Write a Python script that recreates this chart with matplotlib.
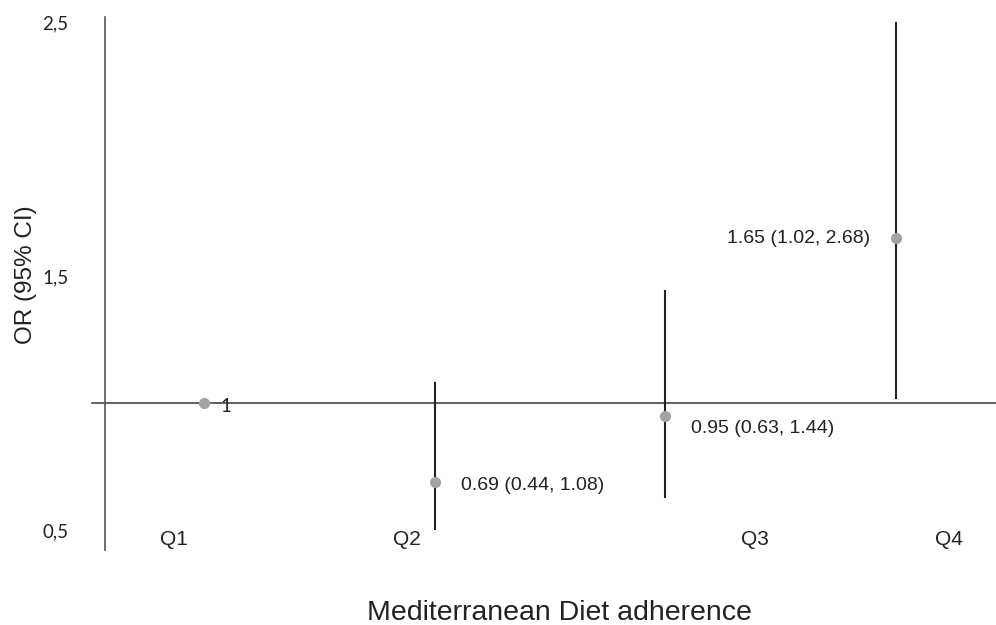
import matplotlib
matplotlib.use('Agg')
from matplotlib import pyplot as plt
import numpy as np

# data
quartiles = ['Q1', 'Q2', 'Q3', 'Q4']
odds_ratio = [1.00, 0.69, 0.95, 1.65]
ci_low = [1.00, 0.44, 0.63, 1.02]
ci_high = [1.00, 1.08, 1.44, 2.68]
point_labels = ['1', '0.69 (0.44, 1.08)', '0.95 (0.63, 1.44)', '1.65 (1.02, 2.68)']
y_ticks = [0.5, 1.5, 2.5]
y_tick_labels = ['0,5', '1,5', '2,5']

# where the quartile names sit on the x scale (they are not under the points)
label_x = [0.87, 1.88, 3.39, 4.23]

x = np.arange(1, len(quartiles) + 1)
y_lo, y_hi = 0.5, 2.5

fig = plt.figure(figsize=(9.96, 6.25), dpi=100)
ax = fig.add_axes([0.1054, 0.152, 0.8946, 0.8128])
ax.set_xlim(0.571, 4.433)
ax.set_ylim(y_lo, y_hi)

for s in ['top', 'right', 'bottom']:
    ax.spines[s].set_visible(False)
ax.spines['left'].set_color('#555555')
ax.spines['left'].set_linewidth(1.2)
ax.spines['left'].set_bounds(0.42, 2.52)

# reference line at OR = 1
ax.plot([0.515, 4.433], [1, 1], color='#444444', lw=1.2, clip_on=False, zorder=1)

# confidence intervals, cut at the axis range
for xi, lo, hi in zip(x, ci_low, ci_high):
    if hi > lo:
        ax.plot([xi, xi], [max(lo, y_lo), min(hi, y_hi)], color='#222222', lw=1.5, zorder=2)

ax.plot(x, odds_ratio, 'o', color='#a3a3a3', ms=7, zorder=3)

offsets = [(16, -4), (26, -4), (26, -13), (-26, -1)]
aligns = ['left', 'left', 'left', 'right']
for i, txt in enumerate(point_labels):
    fam = 'Lato' if i == 0 else 'Liberation Sans'
    ax.annotate(txt, (x[i], odds_ratio[i]), textcoords='offset pixels',
                xytext=offsets[i], ha=aligns[i], va='center',
                fontsize=13.5 if i == 0 else 14, family=fam, color='#222222')

ax.set_yticks(y_ticks)
ax.set_yticklabels(y_tick_labels, family='Lato', fontsize=13.5, color='#222222')
ax.tick_params(axis='y', length=0, pad=45)
for lbl in ax.get_yticklabels():
    lbl.set_horizontalalignment('left')

ax.set_xticks(label_x)
ax.set_xticklabels(quartiles, family='Liberation Sans', fontsize=15, color='#222222')
ax.tick_params(axis='x', length=0, pad=0)

fig.text(0.562, 0.02, 'Mediterranean Diet adherence', ha='center', va='center',
         fontsize=20.5, family='Liberation Sans', color='#222222')
fig.text(0.026, 0.56, 'OR (95% CI)', ha='center', va='center', rotation=90,
         fontsize=17.5, family='Liberation Sans', color='#222222')

fig.savefig('out.png', dpi=100)
